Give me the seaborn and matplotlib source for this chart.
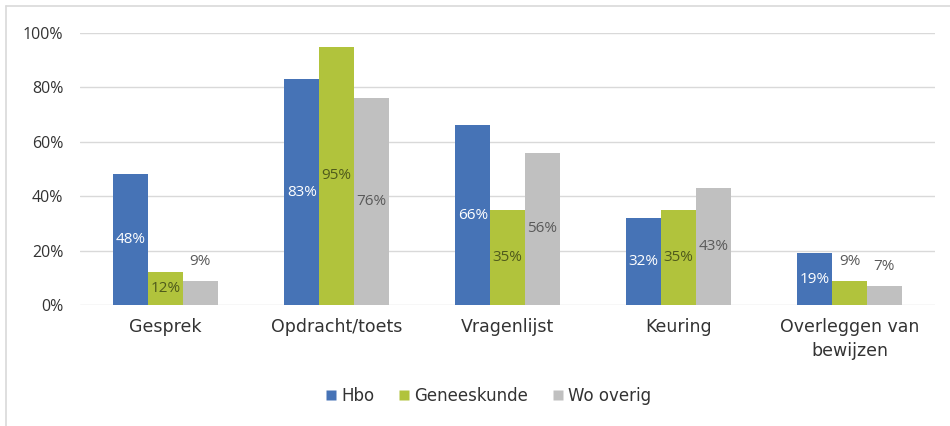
import matplotlib
matplotlib.use("Agg")
import matplotlib.pyplot as plt
import matplotlib.lines as mlines
import seaborn as sns
import pandas as pd

categories = ["Gesprek", "Opdracht/toets", "Vragenlijst", "Keuring", "Overleggen van\nbewijzen"]
series = ["Hbo", "Geneeskunde", "Wo overig"]
hbo = [48, 83, 66, 32, 19]
geneeskunde = [12, 95, 35, 35, 9]
wo_overig = [9, 76, 56, 43, 7]
yticks = [0, 20, 40, 60, 80, 100]

colors = {"Hbo": "#4673b6", "Geneeskunde": "#b1c33c", "Wo overig": "#c0c0c0"}
label_colors = {"Hbo": "#ffffff", "Geneeskunde": "#4f5a1c", "Wo overig": "#5a5a5a"}

rows = []
for s, vals in zip(series, [hbo, geneeskunde, wo_overig]):
    for c, v in zip(categories, vals):
        rows.append({"cat": c, "series": s, "value": v})
df = pd.DataFrame(rows)

sns.set_theme(style="white")
plt.rcParams["font.family"] = ["DejaVu Sans"]

fig = plt.figure(figsize=(9.5, 4.26), dpi=100)
W, H = 950, 426
ax = fig.add_axes([80 / W, 1 - 305 / H, (935 - 80) / W, (305 - 33) / H])

sns.barplot(data=df, x="cat", y="value", hue="series", hue_order=series,
            order=categories, palette=colors, width=0.61, gap=0,
            saturation=1, ax=ax, legend=False, edgecolor="none", linewidth=0)

ax.set_ylim(0, 100)
ax.set_xlim(-0.5, len(categories) - 0.5)
ax.set_yticks(yticks)
ax.set_yticklabels([f"{t}%" for t in yticks], fontfamily="Open Sans", fontsize=11.5, color="#333333")
ax.tick_params(axis="y", length=0, pad=12)
ax.tick_params(axis="x", length=0, pad=9)
for lbl in ax.get_xticklabels():
    lbl.set_fontsize(12.5)
    lbl.set_color("#333333")
    lbl.set_linespacing(1.45)
ax.set_xlabel("")
ax.set_ylabel("")
for sp in ax.spines.values():
    sp.set_visible(False)
ax.yaxis.grid(True, color="#d9d9d9", linewidth=1.0)
ax.set_axisbelow(True)

for cont, s, vals in zip(ax.containers, series, [hbo, geneeskunde, wo_overig]):
    for patch, v in zip(cont.patches, vals):
        xc = patch.get_x() + patch.get_width() / 2
        h = patch.get_height()
        if v < 10:
            ax.annotate(f"{v}%", (xc, h), xytext=(0, 14), textcoords="offset points",
                        ha="center", va="center", fontsize=11, fontfamily="Open Sans",
                        color="#5a5a5a")
        else:
            ax.text(xc, h / 2, f"{v}%", ha="center", va="center", fontsize=11,
                    fontfamily="Open Sans", color=label_colors[s])

handles = [mlines.Line2D([], [], marker="s", linestyle="none", markersize=7.5,
                         markerfacecolor=colors[s], markeredgecolor="none") for s in series]
fig.legend(handles, series, loc="center", bbox_to_anchor=(488 / W, 1 - 396 / H), ncol=3,
           frameon=False, handlelength=0.8, handletextpad=0.2, columnspacing=1.4,
           prop={"size": 12}, labelcolor="#333333")

fig.add_artist(mlines.Line2D([6 / W, 6 / W], [0, 1 - 6 / H], color="#d9d9d9", linewidth=1.2, transform=fig.transFigure))
fig.add_artist(mlines.Line2D([6 / W, 1], [1 - 6 / H, 1 - 6 / H], color="#d9d9d9", linewidth=1.2, transform=fig.transFigure))

fig.savefig("out.png", dpi=100)
